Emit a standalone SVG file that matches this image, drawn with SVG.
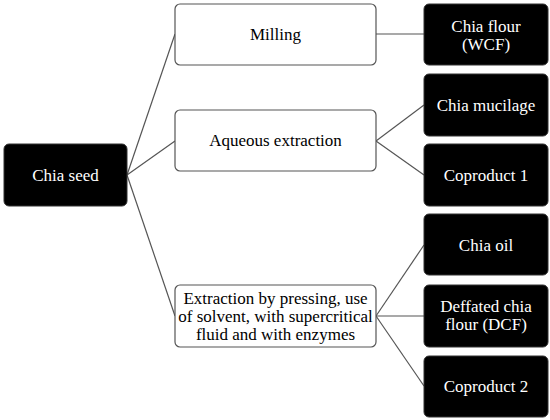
<svg xmlns="http://www.w3.org/2000/svg" width="550" height="420" viewBox="0 0 550 420">
<style>
.w{fill:#fff;stroke:#555;stroke-width:1.2}
.b{fill:#000;stroke:#333;stroke-width:1}
text{font-family:"Liberation Serif","DejaVu Serif",serif;font-size:17px;text-anchor:middle}
.wt{fill:#fff}
.bt{fill:#000}
.c line{stroke:#555;stroke-width:1.2}
</style>
<rect width="550" height="420" fill="#fff"/>
<g class="c" id="connectors">
<line x1="127" y1="175" x2="175" y2="34"/>
<line x1="127" y1="175" x2="175" y2="141"/>
<line x1="127" y1="175" x2="175" y2="316"/>
<line x1="376" y1="34" x2="424" y2="34"/>
<line x1="376" y1="141" x2="424" y2="105"/>
<line x1="376" y1="141" x2="424" y2="175"/>
<line x1="376" y1="316" x2="424" y2="245"/>
<line x1="376" y1="316" x2="424" y2="316"/>
<line x1="376" y1="316" x2="424" y2="386"/>
</g>
<g id="chia-seed"><rect class="b" x="4" y="144" width="123" height="62" rx="5"/><text class="wt" x="65.5" y="181">Chia seed</text></g>
<g id="milling"><rect class="w" x="175" y="4" width="201" height="61" rx="5"/><text class="bt" x="275.5" y="40">Milling</text></g>
<g id="aqueous"><rect class="w" x="175" y="110" width="201" height="61" rx="5"/><text class="bt" x="275.5" y="146">Aqueous extraction</text></g>
<g id="extraction"><rect class="w" x="175" y="285" width="201" height="62" rx="5"/><text class="bt" x="275.5" y="304">Extraction by pressing, use</text><text class="bt" x="275.5" y="322">of solvent, with supercritical</text><text class="bt" x="275.5" y="340">fluid and with enzymes</text></g>
<g id="chia-flour"><rect class="b" x="424" y="4" width="124" height="61" rx="5"/><text class="wt" x="486" y="32">Chia flour</text><text class="wt" x="486" y="50">(WCF)</text></g>
<g id="chia-mucilage"><rect class="b" x="424" y="74" width="124" height="62" rx="5"/><text class="wt" x="486" y="111">Chia mucilage</text></g>
<g id="coproduct-1"><rect class="b" x="424" y="144" width="124" height="62" rx="5"/><text class="wt" x="486" y="181">Coproduct 1</text></g>
<g id="chia-oil"><rect class="b" x="424" y="214" width="124" height="61" rx="5"/><text class="wt" x="486" y="251">Chia oil</text></g>
<g id="deffated"><rect class="b" x="424" y="285" width="124" height="62" rx="5"/><text class="wt" x="486" y="312">Deffated chia</text><text class="wt" x="486" y="330">flour (DCF)</text></g>
<g id="coproduct-2"><rect class="b" x="424" y="356" width="124" height="61" rx="5"/><text class="wt" x="486" y="392">Coproduct 2</text></g>
</svg>
